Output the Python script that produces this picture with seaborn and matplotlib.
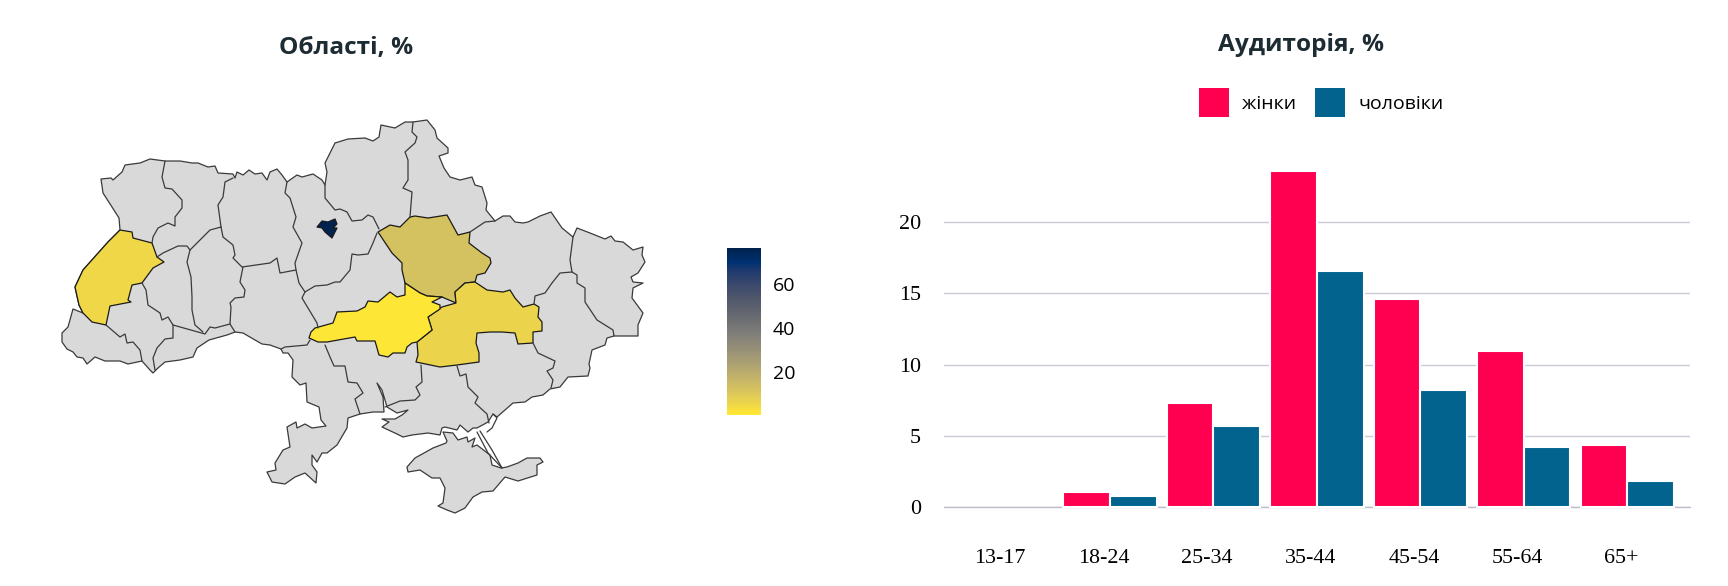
import numpy as np
import pandas as pd
import matplotlib
matplotlib.use('Agg')
import matplotlib.pyplot as plt
import seaborn as sns

# --- bar chart data ---
age_groups = ['13-17', '18-24', '25-34', '35-44', '45-54', '55-64', '65+']
women = [0, 1.05, 7.3, 23.6, 14.6, 10.95, 4.35]
men = [0, 0.77, 5.65, 16.55, 8.2, 4.2, 1.85]

# --- map data: outlines, in canvas pixels ---
ukraine_outline = [
    (101, 179), (111, 178), (113, 180), (122, 172), (125, 165), (140, 163), (150, 159), (165, 161),
    (180, 161), (192, 163), (198, 163), (208, 167), (215, 166), (218, 173), (233, 174), (235, 178),
    (237, 172), (243, 175), (249, 170), (255, 174), (262, 173), (267, 180), (270, 172), (277, 169),
    (282, 175), (287, 182), (297, 175), (302, 177), (313, 174), (322, 180), (325, 185), (327, 172),
    (325, 163), (335, 143), (348, 139), (365, 138), (373, 141), (379, 137), (381, 125), (395, 128),
    (405, 122), (413, 122), (427, 120), (435, 130), (437, 138), (448, 148), (448, 153), (439, 156),
    (444, 168), (450, 177), (460, 180), (472, 177), (475, 185), (482, 187), (487, 203), (486, 210),
    (495, 221), (503, 216), (510, 216), (515, 222), (523, 223), (528, 222), (540, 216), (551, 212),
    (562, 228), (573, 237), (577, 228), (590, 233), (605, 239), (611, 236), (615, 241), (623, 242),
    (633, 250), (643, 247), (642, 255), (645, 262), (638, 273), (631, 277), (633, 282), (643, 283),
    (633, 288), (632, 298), (643, 313), (638, 325), (638, 336), (614, 336), (607, 338), (605, 345),
    (592, 350), (589, 364), (590, 368), (588, 376), (568, 377), (560, 387), (550, 389), (543, 395),
    (532, 397), (525, 402), (513, 403), (497, 417), (493, 414), (488, 422), (477, 428), (473, 428),
    (468, 432), (460, 425), (457, 430), (445, 427), (442, 428), (440, 435), (428, 433), (412, 435),
    (403, 437), (397, 434), (382, 427), (389, 422), (382, 419), (395, 419), (402, 415), (408, 410),
    (397, 413), (387, 407), (385, 400), (382, 390), (377, 383), (383, 397), (384, 412), (373, 412),
    (360, 414), (348, 418), (347, 428), (337, 445), (327, 453), (322, 453), (317, 462), (312, 455),
    (312, 465), (317, 472), (316, 483), (305, 473), (295, 477), (285, 484), (272, 482), (267, 472),
    (276, 470), (275, 463), (283, 450), (290, 447), (287, 427), (296, 422), (297, 428), (305, 424),
    (312, 428), (326, 426), (321, 420), (319, 407), (307, 402), (306, 383), (300, 385), (292, 377),
    (293, 360), (288, 353), (283, 353), (281, 349), (270, 345), (262, 344), (255, 340), (243, 333),
    (235, 332), (227, 335), (209, 340), (197, 348), (193, 357), (180, 360), (165, 362), (158, 368),
    (153, 373), (150, 370), (142, 361), (128, 364), (120, 361), (105, 361), (95, 357), (87, 364),
    (83, 358), (77, 357), (73, 352), (67, 349), (62, 342), (62, 333), (68, 327), (73, 309),
    (83, 313), (79, 305), (75, 287), (83, 270), (108, 242), (120, 230), (119, 218), (112, 207),
    (103, 193),
]
crimea_outline = [
    (446, 443), (433, 448), (415, 458), (407, 467), (408, 472), (420, 470), (432, 478), (440, 478),
    (445, 488), (443, 503), (438, 506), (447, 510), (455, 513), (465, 508), (473, 497), (482, 492),
    (493, 491), (505, 477), (518, 481), (537, 475), (537, 465), (543, 462), (540, 458), (527, 458),
    (518, 463), (507, 467), (501, 468), (492, 465), (490, 455), (477, 445), (472, 447), (475, 438),
    (468, 442), (467, 437), (458, 440), (453, 433), (443, 432), (447, 441),
]
# thin spits near Crimea and the Azov coast
spits = [
    [(477, 432), (488, 453), (502, 468)],
    [(480, 431), (492, 450), (502, 468)],
    [(493, 414), (497, 418), (492, 428), (487, 432)],
]
# borders between the grey oblasts
inner_borders = [
    [(165, 161), (162, 177), (165, 188), (172, 189), (182, 200), (182, 208), (175, 217), (175, 226), (168, 223), (158, 228), (153, 237), (152, 243)],
    [(233, 178), (225, 182), (223, 197), (218, 205), (221, 227)],
    [(157, 257), (163, 253), (178, 246), (187, 246), (190, 250), (203, 237), (210, 230), (221, 227)],
    [(190, 250), (187, 262), (191, 277), (192, 297), (192, 310), (195, 325), (203, 332)],
    [(142, 283), (146, 290), (148, 305), (160, 313), (162, 320), (168, 317), (173, 325), (198, 332), (205, 334), (210, 327), (215, 328), (230, 324), (235, 332)],
    [(173, 325), (173, 338), (165, 339), (157, 348), (153, 358), (155, 370)],
    [(106, 325), (120, 337), (125, 334), (127, 343), (133, 342), (140, 350), (142, 361)],
    [(230, 324), (231, 307), (230, 303), (235, 298), (244, 297), (245, 290), (240, 282), (243, 267)],
    [(221, 227), (223, 237), (233, 245), (235, 255), (233, 258), (242, 267), (270, 263), (277, 258), (280, 273), (296, 270)],
    [(287, 182), (285, 193), (290, 198), (296, 217), (293, 227), (302, 243), (295, 263), (296, 270), (299, 283), (305, 292), (302, 298), (317, 323), (318, 328)],
    [(305, 292), (315, 286), (327, 285), (335, 282), (340, 282), (350, 270), (352, 254), (358, 255), (368, 254), (373, 243), (377, 233)],
    [(325, 185), (325, 198), (335, 210), (340, 209), (347, 212), (352, 221), (362, 220), (368, 215), (373, 217), (379, 229)],
    [(413, 122), (412, 132), (417, 137), (415, 143), (405, 152), (408, 160), (408, 180), (403, 188), (412, 192), (410, 217)],
    [(470, 232), (485, 222), (495, 221)],
    [(573, 237), (570, 260), (572, 272), (577, 275), (577, 283), (585, 288), (585, 302), (597, 320), (605, 325), (613, 330), (614, 336)],
    [(572, 272), (560, 273), (552, 283), (545, 293), (535, 296), (534, 304)],
    [(310, 340), (307, 345), (285, 347), (281, 349)],
    [(325, 345), (330, 357), (334, 366), (345, 366), (348, 382), (357, 383), (363, 393), (355, 399), (360, 414)],
    [(421, 365), (422, 382), (416, 387), (420, 395), (415, 400), (400, 401), (385, 407)],
    [(457, 366), (460, 376), (466, 374), (468, 387), (478, 397), (475, 403), (487, 414), (489, 423)],
    [(533, 343), (538, 353), (555, 361), (553, 368), (547, 371), (553, 380), (551, 388)],
]
lviv_outline = [
    (75, 287), (83, 270), (108, 242), (120, 230), (132, 232), (133, 238), (152, 243), (157, 257),
    (164, 262), (153, 268), (142, 283), (132, 285), (128, 300), (131, 302), (110, 306), (106, 325),
    (92, 322), (83, 313), (79, 305),
]
poltava_outline = [
    (378, 232), (390, 225), (400, 227), (410, 217), (415, 216), (428, 218), (447, 215), (458, 235),
    (470, 232), (469, 243), (482, 253), (490, 258), (491, 263), (485, 273), (477, 275), (475, 282),
    (465, 283), (455, 292), (456, 303), (442, 297), (427, 296), (420, 293), (405, 283), (402, 270),
    (402, 263), (392, 253),
]
dnipro_outline = [
    (442, 307), (428, 317), (432, 330), (417, 342), (418, 355), (416, 362), (440, 367), (457, 365),
    (479, 362), (479, 353), (476, 343), (477, 333), (490, 332), (502, 332), (515, 333), (518, 344),
    (533, 343), (533, 332), (542, 331), (542, 322), (538, 317), (539, 307), (534, 304), (523, 307),
    (515, 298), (510, 290), (503, 292), (487, 290), (475, 282), (465, 283), (455, 292), (456, 303),
]
kirovohrad_outline = [
    (309, 338), (311, 332), (315, 328), (333, 323), (337, 312), (357, 311), (365, 307), (368, 301),
    (378, 302), (390, 292), (397, 297), (405, 295), (405, 283), (420, 293), (427, 296), (442, 297),
    (432, 302), (440, 305), (440, 309), (428, 317), (432, 330), (417, 342), (412, 343), (407, 347),
    (405, 353), (393, 353), (388, 357), (379, 355), (375, 341), (357, 341), (355, 337), (327, 342),
    (318, 342),
]
kyiv_outline = [
    (317, 227), (322, 221), (328, 222), (335, 219), (337, 224), (333, 228), (337, 228), (332, 238),
    (325, 232), (322, 228),
]
region_names = ['Львівська', 'Полтавська', 'Дніпропетровська', 'Кіровоградська', 'Київ']
region_shapes = [lviv_outline, poltava_outline, dnipro_outline, kirovohrad_outline, kyiv_outline]
region_values = [5.5, 12.7, 6.5, 1, 76]
color_min = 0.6
color_max = 76.2
colorbar_ticks = [20, 40, 60]

grey_fill = '#d9d9d9'
border_color = '#3a3a3a'
pink = '#ff0051'
blue = '#02638f'
title_color = '#1d2b33'

sns.set_theme(style='white')
plt.rcParams['font.family'] = ['Open Sans', 'DejaVu Sans']

W, H = 1728, 586
fig = plt.figure(figsize=(W / 100, H / 100), dpi=100)


def px_axes(left, top, right, bottom):
    # axes box given in canvas pixels
    return fig.add_axes([left / W, 1 - bottom / H, (right - left) / W, (bottom - top) / H])


# Map
ax_map = fig.add_axes([0, 0, 1, 1])
ax_map.set_xlim(0, W)
ax_map.set_ylim(H, 0)
ax_map.axis('off')

for shape in [ukraine_outline, crimea_outline]:
    xs, ys = zip(*shape)
    ax_map.fill(xs, ys, facecolor=grey_fill, edgecolor=border_color, linewidth=0.9, joinstyle='round')
for line in inner_borders + spits:
    xs, ys = zip(*line)
    ax_map.plot(xs, ys, color=border_color, linewidth=0.9, solid_joinstyle='round')

cmap = plt.get_cmap('cividis_r')
norm = plt.Normalize(color_min, color_max)
for name, shape, value in zip(region_names, region_shapes, region_values):
    xs, ys = zip(*shape)
    ax_map.fill(xs, ys, facecolor=cmap(norm(value)), edgecolor='#1a1a1a', linewidth=0.9, joinstyle='round')

fig.text(346 / W, 1 - 48 / H, 'Області, %', ha='center', va='center', fontsize=17.6,
         fontweight='bold', color=title_color)
fig.text(1301.5 / W, 1 - 45 / H, 'Аудиторія, %', ha='center', va='center', fontsize=17.6,
         fontweight='bold', color=title_color)

# Colorbar
cax = px_axes(727, 248.3, 760.7, 415)
sm = plt.cm.ScalarMappable(norm=norm, cmap=cmap)
cb = fig.colorbar(sm, cax=cax, ticks=colorbar_ticks)
cb.outline.set_visible(False)
cb.ax.tick_params(left=True, right=True, direction='in', length=5, width=0.8, color='#e8e8e8',
                  pad=8.5, labelsize=14, labelcolor='black')

# Bars
df = pd.DataFrame({
    'age': age_groups * 2,
    'share': women + men,
    'sex': ['жінки'] * len(age_groups) + ['чоловіки'] * len(age_groups),
})

ax = px_axes(944, 165, 1689.5, 507)
sns.barplot(data=df, x='age', y='share', hue='sex', palette=[pink, blue], width=0.9, gap=0,
            saturation=1, edgecolor='white', linewidth=1.5, legend=False, ax=ax, zorder=3)
ax.set_xlim(-0.604, 6.6)
ax.set_ylim(0, 24)
ax.set_xlabel('')
ax.set_ylabel('')
ax.set_yticks([0, 5, 10, 15, 20])
# the labels sit a little left of their bar groups in the reference
ax.set_xticks(np.arange(len(age_groups)) - 0.064, age_groups)
ax.grid(axis='y', color='#cbcad8', linewidth=1)
ax.set_axisbelow(True)
for s in ax.spines.values():
    s.set_visible(False)
for b in ax.patches:
    b.set_clip_on(False)
    if b.get_height() == 0:
        b.set_linewidth(0)
ax.axhline(0, color='#bdbcc9', linewidth=1, zorder=1, clip_on=False)
ax.tick_params(axis='x', length=0, pad=30, labelsize=15.8, labelcolor='black')
ax.tick_params(axis='y', length=0, pad=16.5, labelsize=15.8, labelcolor='black')
for t in ax.get_xticklabels() + ax.get_yticklabels():
    t.set_fontfamily('Liberation Serif')

# Legend drawn by hand so the swatches sit where they do in the page
for left, color, label, text_x in [(1199.4, pink, 'жінки', 1242), (1315, blue, 'чоловіки', 1358)]:
    ax_map.add_patch(plt.Rectangle((left, 88.3), 29.6, 29, facecolor=color, edgecolor='none'))
    ax_map.text(text_x, 104, label, ha='left', va='center', fontsize=14, color='black')

fig.savefig('out.png', dpi=100, facecolor='white')
